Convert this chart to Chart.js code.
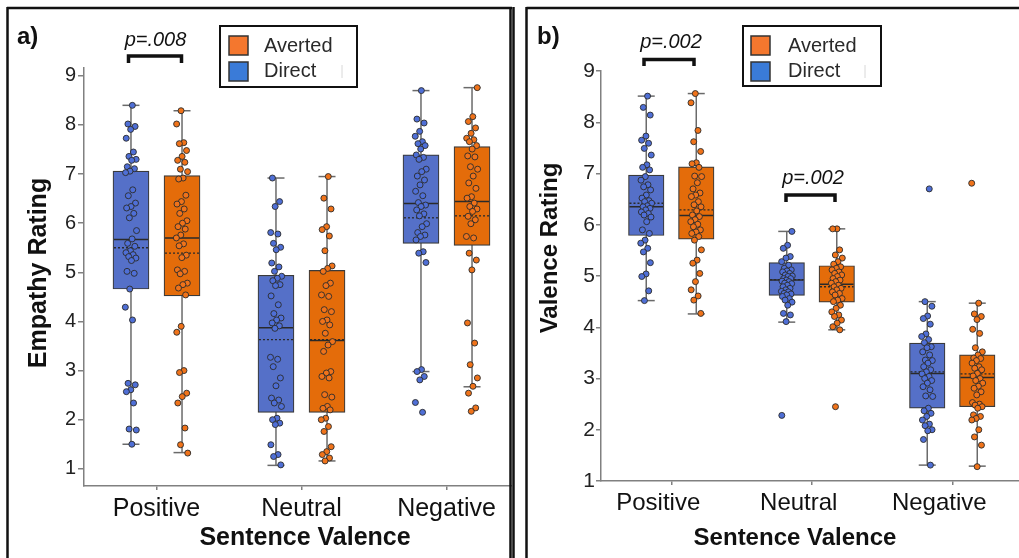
<!DOCTYPE html>
<html><head><meta charset="utf-8">
<script src="https://cdn.jsdelivr.net/npm/chart.js@4.4.1/dist/chart.umd.min.js"></script>
<style>
html,body{margin:0;padding:0;background:#fff;}
body{width:1019px;height:558px;overflow:hidden;position:relative;}
.pane{position:absolute;top:0;height:558px;overflow:hidden;}
</style></head>
<body>
<div class="pane" style="left:0;width:512px;"><canvas id="ca" width="525" height="558"></canvas></div>
<div class="pane" style="left:512px;width:507px;"><canvas id="cb" width="516" height="558"></canvas></div>
<script>
const categories = ['Positive', 'Neutral', 'Negative'];
const yTickValues = [1, 2, 3, 4, 5, 6, 7, 8, 9];
const seriesNames = ['Direct', 'Averted'];

// ---- a) Empathy rating: box statistics (Positive, Neutral, Negative)
const empDirectQ1 = [4.66, 2.15, 5.59];
const empDirectMed = [5.67, 3.87, 6.40];
const empDirectQ3 = [7.06, 4.94, 7.39];
const empDirectMean = [5.50, 3.63, 6.11];
const empDirectLow = [1.50, 1.07, 2.98];
const empDirectHigh = [8.40, 6.92, 8.70];
const empAvertedQ1 = [4.52, 2.15, 5.55];
const empAvertedMed = [5.70, 3.61, 6.44];
const empAvertedQ3 = [6.97, 5.04, 7.56];
const empAvertedMean = [5.39, 3.63, 6.15];
const empAvertedLow = [1.33, 1.16, 2.67];
const empAvertedHigh = [8.29, 6.95, 8.76];

// ---- a) Empathy rating: individual ratings
const empPosDirect = [8.40,8.02,7.97,7.91,7.73,7.45,7.36,7.30,7.28,7.15,7.11,7.06,7.03,6.68,6.56,6.41,6.34,6.31,6.20,6.11,5.85,5.68,5.59,5.53,5.44,5.40,5.36,5.32,5.29,5.24,5.02,4.98,4.66,4.29,4.03,2.74,2.71,2.61,2.57,2.34,1.81,1.79,1.50];
const empPosAverted = [8.29,8.02,7.64,7.62,7.48,7.36,7.28,7.24,7.10,7.05,6.92,6.90,6.57,6.44,6.39,6.29,6.20,6.05,6.00,5.93,5.88,5.76,5.70,5.58,5.54,5.35,5.30,5.05,5.02,4.97,4.78,4.75,4.68,4.54,3.90,3.78,3.00,2.96,2.54,2.47,2.34,1.83,1.49,1.32];
const empNeuDirect = [6.92,6.44,6.34,5.81,5.78,5.59,5.51,5.46,5.19,5.11,5.02,4.92,4.88,4.83,4.75,4.73,4.52,4.34,4.16,4.07,4.03,3.97,3.91,3.86,3.27,3.23,3.08,2.85,2.69,2.44,2.40,2.34,2.27,2.03,2.00,1.93,1.90,1.49,1.29,1.25,1.08];
const empNeuAverted = [6.95,6.51,6.29,5.93,5.87,5.74,5.44,5.13,5.08,5.02,4.78,4.73,4.54,4.51,4.24,4.20,4.03,4.00,3.93,3.76,3.59,3.52,3.39,2.98,2.95,2.88,2.85,2.51,2.46,2.27,2.23,2.20,2.03,2.00,1.86,1.76,1.45,1.35,1.29,1.22,1.16];
const empNegDirect = [8.70,8.12,8.04,7.87,7.77,7.66,7.62,7.58,7.51,7.39,7.34,7.30,7.10,7.05,6.96,6.88,6.78,6.65,6.56,6.42,6.37,6.34,6.27,6.19,6.15,5.99,5.93,5.81,5.76,5.73,5.66,5.42,5.39,5.20,3.02,2.98,2.88,2.81,2.35,2.15];
const empNegAverted = [8.76,8.17,8.07,7.94,7.83,7.73,7.70,7.66,7.58,7.51,7.37,7.35,7.15,7.10,6.96,6.82,6.71,6.54,6.51,6.41,6.34,6.29,6.24,6.14,6.07,5.99,5.73,5.70,5.39,5.25,5.05,3.97,3.56,3.12,2.85,2.68,2.54,2.24,2.17];

// ---- b) Valence rating: box statistics
const valDirectQ1 = [5.79, 4.62, 2.42];
const valDirectMed = [6.35, 4.92, 3.10];
const valDirectQ3 = [6.97, 5.26, 3.69];
const valDirectMean = [6.42, 4.93, 3.13];
const valDirectLow = [4.52, 4.10, 1.31];
const valDirectHigh = [8.51, 5.87, 4.50];
const valAvertedQ1 = [5.72, 4.49, 2.45];
const valAvertedMed = [6.18, 4.84, 3.02];
const valAvertedQ3 = [7.13, 5.20, 3.46];
const valAvertedMean = [6.29, 4.79, 3.09];
const valAvertedLow = [4.26, 3.95, 1.29];
const valAvertedHigh = [8.56, 5.92, 4.47];

// ---- b) Valence rating: individual ratings
const valPosDirect = [8.51,8.29,8.14,7.73,7.65,7.59,7.49,7.36,7.17,7.12,7.07,6.94,6.87,6.78,6.74,6.68,6.58,6.52,6.47,6.45,6.42,6.37,6.35,6.32,6.29,6.25,6.22,6.19,6.15,6.06,5.90,5.83,5.70,5.64,5.54,5.47,5.26,5.04,4.99,4.71,4.52];
const valPosAverted = [8.56,8.38,7.84,7.62,7.43,7.21,7.19,7.12,6.95,6.94,6.82,6.70,6.62,6.58,6.55,6.45,6.39,6.35,6.27,6.19,6.16,6.10,6.06,6.01,5.96,5.90,5.86,5.83,5.77,5.70,5.51,5.31,5.25,5.05,4.89,4.73,4.61,4.53,4.27];
const valNeuDirect = [5.87,5.60,5.54,5.38,5.35,5.28,5.21,5.15,5.12,5.10,5.08,5.05,5.02,5.00,4.99,4.95,4.95,4.92,4.90,4.89,4.86,4.85,4.82,4.79,4.76,4.73,4.70,4.69,4.66,4.65,4.63,4.60,4.56,4.53,4.49,4.43,4.27,4.24,4.11,2.28];
const valNeuAverted = [5.92,5.92,5.51,5.41,5.35,5.28,5.23,5.18,5.15,5.12,5.08,5.05,5.02,4.99,4.95,4.92,4.89,4.86,4.82,4.79,4.76,4.73,4.69,4.66,4.63,4.56,4.53,4.50,4.43,4.37,4.30,4.24,4.21,4.14,4.08,4.01,3.95,2.45];
const valNegDirect = [6.70,4.50,4.41,4.22,4.17,4.06,3.87,3.82,3.76,3.70,3.62,3.60,3.52,3.46,3.36,3.35,3.30,3.23,3.17,3.13,3.09,3.04,3.00,2.96,2.91,2.84,2.78,2.66,2.65,2.42,2.37,2.32,2.26,2.19,2.11,2.08,2.00,1.98,1.81,1.31];
const valNegAverted = [6.81,4.47,4.26,4.21,4.15,3.96,3.88,3.60,3.52,3.46,3.40,3.39,3.35,3.30,3.23,3.20,3.17,3.10,3.05,3.00,2.96,2.91,2.85,2.81,2.74,2.68,2.53,2.50,2.48,2.45,2.42,2.29,2.26,2.22,2.19,2.00,1.86,1.70,1.28];

const pValues = ['p=.008', 'p=.002', 'p=.002'];

Chart.defaults.font.family = '"Liberation Sans", Arial, Helvetica, sans-serif';
Chart.defaults.color = '#1a1a1a';

const FONT = '"Liberation Sans", Arial, Helvetica, sans-serif';
const BLUE_BOX = '#5570c8', ORANGE_BOX = '#e46c0a';
const BLUE_PT = '#4f6fd6', ORANGE_PT = '#f0731a';
const BLUE_LEG = '#3a7bd8', ORANGE_LEG = '#f4772e';

function jit(k) { return ((k * 0.6180339887) % 1 - 0.5) * 2; }

function buildPanel(canvasId, p) {
  const off = p.off;
  const datasets = [];
  p.series.forEach((s, si) => {
    const sx = si === 0 ? -off : off;
    datasets.push({
      type: 'bar', label: s.name,
      data: s.q1.map((v, i) => ({ x: i + sx, y: [v, s.q3[i]] })),
      backgroundColor: s.box, borderColor: '#3a3a3a', borderWidth: 1.2, borderSkipped: false,
      grouped: false, barThickness: p.boxW, order: 1, xAxisID: 'xs', yAxisID: 'y'
    });
  });
  p.series.forEach((s, si) => {
    const pts = []; let k = 1 + si * 11;
    const sx = si === 0 ? -off : off;
    s.points.forEach((arr, ci) => {
      arr.forEach(v => { pts.push({ x: ci + sx + jit(k++) * p.jit, y: v }); });
    });
    datasets.push({
      type: 'scatter', label: s.name + ' ratings', data: pts, xAxisID: 'xs', yAxisID: 'y',
      backgroundColor: s.pt, borderColor: '#2b2b2b', borderWidth: 0.9, pointRadius: 3, pointHoverRadius: 3, order: 0
    });
  });

  const decor = {
    id: 'decor' + canvasId,
    beforeDatasetsDraw(chart) {
      const ctx = chart.ctx, y = chart.scales.y;
      p.series.forEach((s, si) => {
        chart.getDatasetMeta(si).data.forEach((bar, i) => {
          const x = bar.x;
          ctx.save();
          ctx.strokeStyle = '#6a6a6a'; ctx.lineWidth = 1.5;
          ctx.beginPath();
          ctx.moveTo(x, y.getPixelForValue(s.low[i])); ctx.lineTo(x, y.getPixelForValue(s.high[i]));
          ctx.stroke();
          [s.low[i], s.high[i]].forEach(v => {
            const py = y.getPixelForValue(v);
            ctx.beginPath(); ctx.moveTo(x - p.capW / 2, py); ctx.lineTo(x + p.capW / 2, py); ctx.stroke();
          });
          ctx.restore();
        });
      });
    },
    afterDatasetDraw(chart, args) {
      if (args.index > 1) return;
      const s = p.series[args.index];
      const ctx = chart.ctx, y = chart.scales.y;
      chart.getDatasetMeta(args.index).data.forEach((bar, i) => {
        const l = bar.x - bar.width / 2 + 1, r = bar.x + bar.width / 2 - 1;
        ctx.save();
        ctx.strokeStyle = '#2a2a2a'; ctx.lineWidth = 1.5;
        let py = y.getPixelForValue(s.med[i]);
        ctx.beginPath(); ctx.moveTo(l, py); ctx.lineTo(r, py); ctx.stroke();
        ctx.setLineDash([2, 2]); ctx.lineWidth = 1.3;
        py = y.getPixelForValue(s.mean[i]);
        ctx.beginPath(); ctx.moveTo(l, py); ctx.lineTo(r, py); ctx.stroke();
        ctx.restore();
      });
    },
    afterDraw(chart) {
      const ctx = chart.ctx;
      ctx.save();
      ctx.strokeStyle = '#111'; ctx.lineWidth = 2.5;
      p.frame.forEach(seg => { ctx.beginPath(); ctx.moveTo(seg[0], seg[1]); ctx.lineTo(seg[2], seg[3]); ctx.stroke(); });
      ctx.fillStyle = '#111'; ctx.textAlign = 'left'; ctx.textBaseline = 'alphabetic';
      ctx.font = 'bold 24px ' + FONT;
      ctx.fillText(p.label, p.labelPos[0], p.labelPos[1]);
      p.sig.forEach(sg => {
        ctx.font = 'italic 20px ' + FONT; ctx.textAlign = 'center'; ctx.fillStyle = '#111';
        ctx.fillText(sg.text, sg.x, sg.y);
        ctx.strokeStyle = '#111'; ctx.lineWidth = 3.5; ctx.lineJoin = 'miter';
        const b = sg.br;
        ctx.beginPath(); ctx.moveTo(b[0], b[3]); ctx.lineTo(b[0], b[2]); ctx.lineTo(b[1], b[2]); ctx.lineTo(b[1], b[3]); ctx.stroke();
      });
      const L = p.legend;
      ctx.fillStyle = '#fff'; ctx.fillRect(L.x, L.y, L.w, L.h);
      ctx.strokeStyle = '#111'; ctx.lineWidth = 2; ctx.strokeRect(L.x, L.y, L.w, L.h);
      [[ORANGE_LEG, seriesNames[1], L.y1, L.t1], [BLUE_LEG, seriesNames[0], L.y2, L.t2]].forEach(e => {
        ctx.fillStyle = e[0]; ctx.fillRect(L.sx, e[2], L.s, L.s);
        ctx.strokeStyle = '#333'; ctx.lineWidth = 1.5; ctx.strokeRect(L.sx, e[2], L.s, L.s);
        ctx.fillStyle = '#2a2a2a'; ctx.font = '20px ' + FONT; ctx.textAlign = 'left';
        ctx.fillText(e[1], L.tx, e[3]);
      });
      ctx.strokeStyle = '#d8d8d8'; ctx.lineWidth = 1;
      ctx.beginPath(); ctx.moveTo(L.faint, L.y2 + 3); ctx.lineTo(L.faint, L.y2 + 16); ctx.stroke();
      ctx.fillStyle = '#111'; ctx.font = 'bold ' + p.titleFont + 'px ' + FONT;
      ctx.textAlign = 'center'; ctx.textBaseline = 'alphabetic';
      ctx.fillText(p.xTitle, p.xTitlePos[0], p.xTitlePos[1]);
      ctx.save(); ctx.translate(p.yTitlePos[0], p.yTitlePos[1]); ctx.rotate(-Math.PI / 2);
      ctx.textBaseline = 'middle'; ctx.fillText(p.yTitle, 0, 0); ctx.restore();
      ctx.restore();
    }
  };

  return new Chart(document.getElementById(canvasId), {
    type: 'bar',
    data: { labels: categories, datasets },
    options: {
      responsive: false, animation: false,
      layout: { padding: { top: p.top, right: p.right, left: 0, bottom: 0 } },
      plugins: { legend: { display: false }, tooltip: { enabled: false } },
      scales: {
        x: {
          type: 'category', offset: true,
          grid: { display: true, drawOnChartArea: false, drawTicks: true, tickLength: 4, offset: false, color: '#808080', lineWidth: 1.5 },
          border: { display: true, color: '#808080', width: 1.5 },
          ticks: { font: { size: p.xFont }, color: '#111', padding: p.xPad, labelOffset: p.labelOffset, maxRotation: 0, autoSkip: false },
          afterFit: s => { s.height = p.xH; }
        },
        xs: { type: 'linear', display: false, offset: false, min: -0.5, max: 2.5, grid: { offset: false } },
        y: {
          type: 'linear', min: p.ymin, max: p.ymax,
          afterBuildTicks: s => { s.ticks = yTickValues.map(v => ({ value: v })); },
          grid: { drawOnChartArea: false, drawTicks: true, tickLength: p.yTick, color: '#808080', lineWidth: 1.5 },
          border: { display: true, color: '#808080', width: 1.5 },
          ticks: { font: { size: p.yFont }, color: '#222', padding: p.yPad },
          afterFit: s => { s.width = p.yW; }
        }
      }
    },
    plugins: [decor]
  });
}

buildPanel('ca', {
  off: 0.176, boxW: 36, jit: 0.04, capW: 17,
  ymin: 0.65, ymax: 9.16, top: 68, right: 6, xH: 72, yW: 84,
  xFont: 25, yFont: 20, xPad: 4, yPad: 2, yTick: 6, labelOffset: 0,
  series: [
    { name: seriesNames[0], box: BLUE_BOX, pt: BLUE_PT, q1: empDirectQ1, q3: empDirectQ3, med: empDirectMed, mean: empDirectMean, low: empDirectLow, high: empDirectHigh, points: [empPosDirect, empNeuDirect, empNegDirect] },
    { name: seriesNames[1], box: ORANGE_BOX, pt: ORANGE_PT, q1: empAvertedQ1, q3: empAvertedQ3, med: empAvertedMed, mean: empAvertedMean, low: empAvertedLow, high: empAvertedHigh, points: [empPosAverted, empNeuAverted, empNegAverted] }
  ],
  frame: [[7, 8, 512, 8], [7.5, 7, 7.5, 560], [510.5, 7, 510.5, 560]],
  label: 'a)', labelPos: [17, 44],
  sig: [{ text: pValues[0], x: 155.5, y: 45.5, br: [128.5, 181.5, 56, 63] }],
  legend: { x: 220, y: 26, w: 137, h: 61, sx: 229, s: 19, y1: 36, y2: 62, tx: 264, t1: 52, t2: 77, faint: 342 },
  titleFont: 25, xTitle: 'Sentence Valence', xTitlePos: [305, 545], yTitle: 'Empathy Rating', yTitlePos: [39, 273]
});

buildPanel('cb', {
  off: 0.178, boxW: 35.5, jit: 0.04, capW: 17,
  ymin: 1, ymax: 9, top: 71, right: 5.5, xH: 77, yW: 89,
  xFont: 24, yFont: 21, xPad: 4, yPad: 1, yTick: 5, labelOffset: -13,
  series: [
    { name: seriesNames[0], box: BLUE_BOX, pt: BLUE_PT, q1: valDirectQ1, q3: valDirectQ3, med: valDirectMed, mean: valDirectMean, low: valDirectLow, high: valDirectHigh, points: [valPosDirect, valNeuDirect, valNegDirect] },
    { name: seriesNames[1], box: ORANGE_BOX, pt: ORANGE_PT, q1: valAvertedQ1, q3: valAvertedQ3, med: valAvertedMed, mean: valAvertedMean, low: valAvertedLow, high: valAvertedHigh, points: [valPosAverted, valNeuAverted, valNegAverted] }
  ],
  frame: [[1.5, 7, 1.5, 560], [14.5, 8, 516, 8], [14.5, 7, 14.5, 560]],
  label: 'b)', labelPos: [25, 44],
  sig: [
    { text: pValues[1], x: 159, y: 48, br: [132, 182, 59.5, 66] },
    { text: pValues[2], x: 301, y: 184, br: [274, 323, 195, 202] }
  ],
  legend: { x: 231, y: 26, w: 138, h: 60, sx: 239, s: 19, y1: 36, y2: 62, tx: 276, t1: 52, t2: 77, faint: 353 },
  titleFont: 24, xTitle: 'Sentence Valence', xTitlePos: [283, 545], yTitle: 'Valence Rating', yTitlePos: [38, 248]
});
</script>
</body></html>
